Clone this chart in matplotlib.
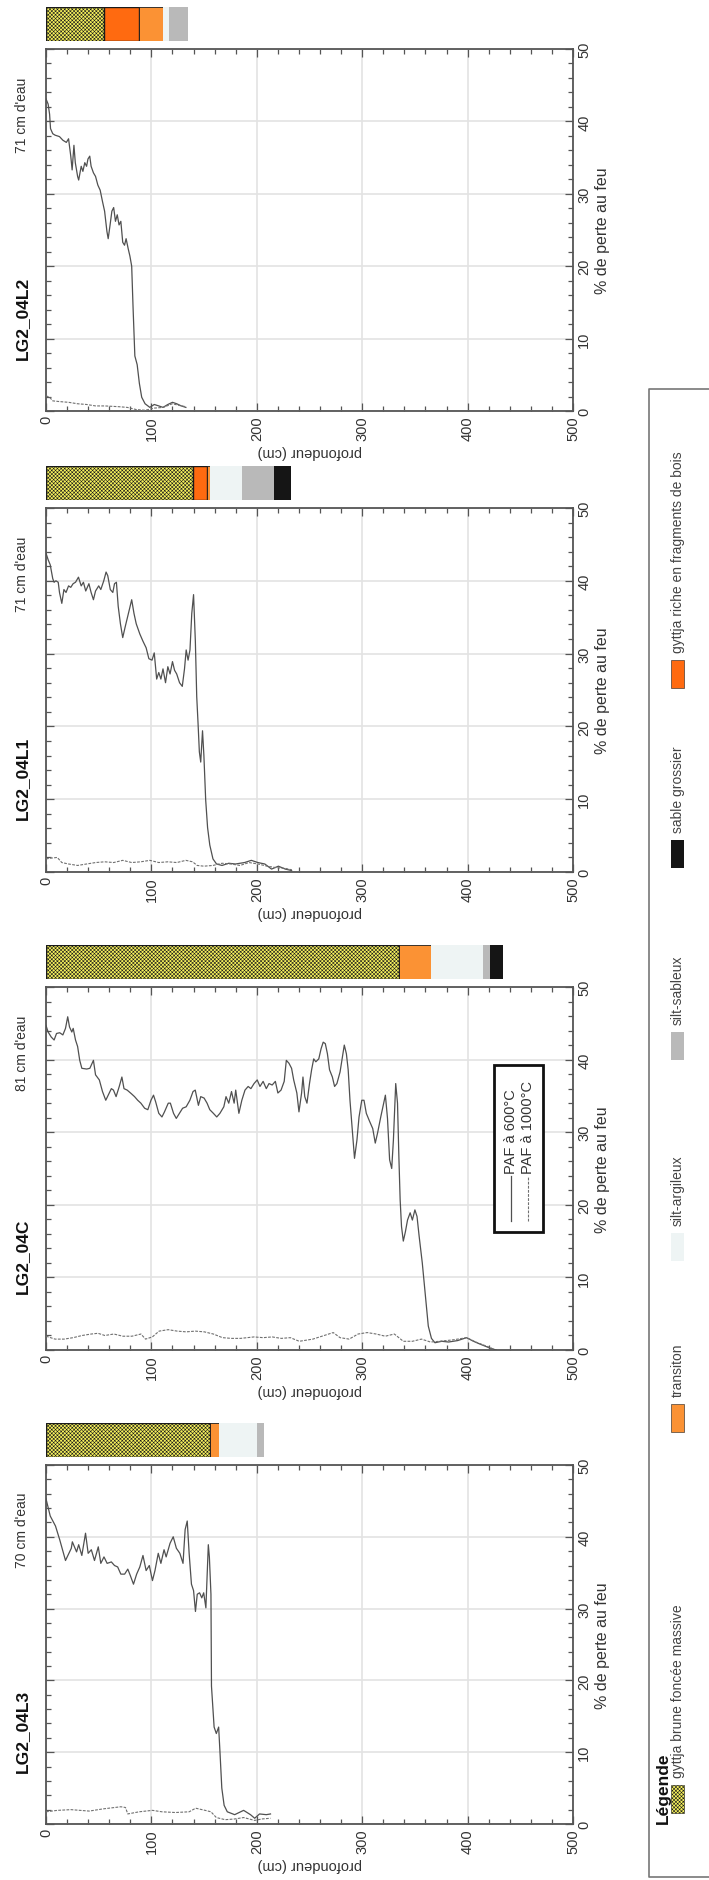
import matplotlib
matplotlib.use('Agg')
import matplotlib.pyplot as plt
from matplotlib.patches import Rectangle
from matplotlib.lines import Line2D
from matplotlib.ticker import MultipleLocator

plt.rcParams['font.family'] = ['Liberation Sans', 'DejaVu Sans']
plt.rcParams['hatch.linewidth'] = 0.4

W, H = 709, 1881

# ---------------- data ----------------
core_names = ['LG2_04L2', 'LG2_04L1', 'LG2_04C', 'LG2_04L3']
water_labels = ["71 cm d'eau", "71 cm d'eau", "81 cm d'eau", "70 cm d'eau"]

# LG2_04L2
l2_depth_600 = [0, 2, 3.4, 4.3, 6.4, 8.6, 12.8, 16, 19.3, 21.4,
                23.5, 24.8, 26.5, 27.8, 30, 31, 33.4, 35, 36.8, 38.5,
                39.8, 41.5, 42.8, 45, 47, 49.2, 51.4, 53.5, 55.6, 57.8,
                59, 60.8, 62.5, 64.2, 65.9, 67.6, 69.3, 71, 72.8, 74.5,
                76, 78, 79.6, 81.3, 82.6, 84.3, 86.5, 88.6, 90.8, 94,
                98.5, 102.7, 107, 111, 115.6, 120, 124, 128.4, 132.7]
l2_paf_600 = [43.1, 42.4, 41.0, 39.0, 38.3, 38.1, 37.9, 37.4, 37.1, 37.6,
              35.2, 33.3, 36.7, 34.3, 32.4, 31.9, 33.8, 33.1, 34.3, 33.8,
              34.8, 35.2, 33.8, 32.9, 32.4, 31.2, 30.5, 29.0, 27.6, 24.8,
              23.8, 25.7, 27.6, 28.1, 26.2, 27.1, 25.7, 26.2, 23.3, 22.9,
              23.8, 22.4, 21.4, 20.0, 14.3, 7.6, 6.4, 3.8, 1.9, 1.0,
              0.5, 0.9, 0.7, 0.5, 0.9, 1.2, 1.0, 0.7, 0.5]
l2_depth_1000 = [0, 3.4, 6.4, 12.8, 21.4, 30, 38.5, 47.1, 55.7, 68.5,
                 77, 85.6, 94.2, 102.7, 111.3, 119.9, 128.4, 132.7]
l2_paf_1000 = [2.1, 1.9, 1.4, 1.3, 1.2, 1.0, 0.9, 0.7, 0.7, 0.6,
               0.5, 0.2, 0.1, 0.4, 0.5, 1.0, 0.7, 0.6]

# LG2_04L1
l1_depth_600 = [0, 2, 4, 6.4, 7.7, 9.4, 11.6, 12.8, 15, 17,
                19, 21.4, 23.5, 25.7, 28, 30.8, 33.4, 35.5, 37.7, 40.7,
                42.8, 45, 47, 50, 52, 54.8, 57, 58.6, 61, 63.4,
                65, 66.8, 68.5, 70.6, 72.8, 75, 77, 79, 81.3, 83.5,
                85.6, 89, 92, 95, 97.6, 100.6, 102.7, 105, 107, 109,
                111, 113.4, 115.6, 117.7, 120, 122, 124, 126.7, 129.3, 131.4,
                133, 134.8, 136.6, 138.3, 140, 141.7, 143, 144.3, 145.5, 146.8,
                148.5, 149.8, 151.5, 153.3, 155.4, 158.4, 161.8, 167, 173.4, 179.8,
                188.4, 194.8, 201, 207.6, 214, 220.5, 227, 233]
l1_paf_600 = [43.8, 42.9, 42.2, 40.3, 39.8, 40.0, 39.8, 38.4, 36.9, 38.8,
              38.4, 39.3, 39.1, 39.6, 39.8, 40.5, 39.3, 39.8, 38.6, 39.6,
              38.4, 37.4, 38.6, 39.3, 38.8, 40.0, 41.2, 40.7, 38.8, 38.4,
              39.6, 39.8, 36.5, 34.1, 32.2, 33.6, 34.8, 36.0, 37.4, 35.5,
              34.1, 32.7, 31.7, 30.8, 29.3, 29.1, 30.1, 26.5, 27.4, 26.5,
              27.9, 26.0, 28.2, 27.2, 28.9, 27.7, 27.2, 26.0, 25.5, 27.9,
              30.5, 29.1, 30.5, 35.5, 38.1, 31.7, 24.1, 20.3, 16.5, 15.1,
              19.4, 16.0, 9.9, 6.1, 3.7, 1.8, 1.1, 0.9, 1.2, 1.1,
              1.3, 1.6, 1.3, 1.1, 0.4, 0.8, 0.4, 0.2]
l1_depth_1000 = [0, 4.3, 10.7, 15, 21.4, 30, 38.5, 47.1, 55.7, 64.2,
                 72.8, 81.3, 89.9, 98.5, 107, 115.6, 124.1, 132.7, 139.1, 143.4,
                 149.8, 158.4, 167, 175.5, 184.1, 192.6, 201.2, 209.8, 218.3, 226.9,
                 233.3]
l1_paf_1000 = [1.8, 1.9, 2.0, 1.3, 1.1, 0.9, 1.1, 1.3, 1.4, 1.3,
               1.6, 1.3, 1.4, 1.6, 1.3, 1.4, 1.3, 1.6, 1.4, 0.9,
               0.8, 0.9, 1.2, 1.1, 0.9, 1.3, 1.1, 0.8, 0.6, 0.5,
               0.3]

# LG2_04C
c_depth_600 = [0, 2, 5, 7.7, 10, 13, 16, 18.5, 20.6, 22.3,
               24.5, 25.8, 28, 30, 32, 34, 38.6, 41.6, 45, 47,
               50.6, 53.6, 56.7, 59, 62, 64, 66.5, 69.5, 72, 74,
               77, 81, 84, 87, 90, 93.6, 96.6, 99.6, 102, 104,
               107, 110, 112.4, 116, 118, 121, 123.6, 126.6, 129.6, 133,
               136.5, 139.5, 141.6, 144.6, 146.8, 150, 152.8, 155.4, 158.8, 162,
               165, 168.7, 170.8, 173.4, 176, 178.5, 180, 183, 185.8, 188.8,
               191.8, 194.4, 197.4, 200.4, 203, 206, 209, 211.6, 214.6, 217.6,
               220, 223, 226, 228, 230.5, 233, 235, 238, 240, 242.5,
               243.8, 245.5, 247.6, 250, 252, 254, 256, 258.8, 261, 263,
               265, 267, 269, 271.7, 273.8, 276, 279, 281, 283, 285,
               286.7, 288.4, 290.6, 292.7, 295, 297, 299.6, 301.7, 303.9, 307,
               310, 312.4, 314.6, 317.6, 319.7, 322, 324, 326, 328, 329.6,
               331.8, 333.5, 334.8, 336, 337.3, 339, 341, 343, 345.5, 347.6,
               350, 352, 354, 357, 359.7, 362.7, 365.7, 369, 375.5, 382,
               390.6, 399, 405.6, 412, 420.6, 427]
c_paf_600 = [44.7, 43.8, 43.1, 42.7, 43.6, 43.7, 43.4, 44.3, 45.9, 44.5,
             43.8, 44.3, 42.7, 41.8, 39.9, 38.8, 38.7, 38.8, 39.9, 37.9,
             37.2, 35.6, 34.4, 35.1, 36.0, 35.8, 34.9, 36.3, 37.6, 36.0,
             35.8, 35.3, 34.9, 34.4, 34.0, 33.3, 33.1, 34.4, 35.1, 34.2,
             32.6, 32.1, 32.8, 34.0, 34.0, 32.6, 31.9, 32.6, 33.3, 33.5,
             34.4, 35.6, 35.8, 33.7, 34.9, 34.7, 34.0, 33.1, 32.6, 32.1,
             32.6, 33.5, 34.9, 34.0, 35.6, 34.0, 35.8, 32.6, 34.4, 35.8,
             36.3, 36.0, 36.7, 37.2, 36.3, 37.0, 36.0, 36.7, 36.5, 37.0,
             35.4, 35.8, 37.0, 39.9, 39.5, 38.8, 37.2, 35.4, 32.8, 35.4,
             37.6, 34.9, 34.0, 36.7, 38.6, 40.1, 39.7, 40.1, 41.5, 42.4,
             42.2, 40.8, 38.6, 37.6, 36.3, 36.7, 38.3, 40.2, 42.0, 40.8,
             38.6, 34.4, 30.3, 26.4, 28.9, 32.1, 34.4, 34.4, 32.6, 31.5,
             30.5, 28.5, 29.9, 32.1, 33.5, 35.1, 31.9, 26.2, 25.0, 28.9,
             36.7, 34.0, 26.6, 20.7, 17.0, 15.0, 16.3, 17.9, 18.9, 17.9,
             19.3, 18.4, 15.7, 12.0, 7.9, 3.3, 1.6, 1.0, 1.2, 1.1,
             1.3, 1.7, 1.2, 0.8, 0.3, 0.0]
c_depth_1000 = [0, 4.3, 8.6, 17.2, 25.8, 34.3, 42.9, 49.4, 55.8, 64.4,
                72.9, 81.5, 90.1, 94.4, 100.9, 107.3, 115.9, 124.5, 133, 141.6,
                150.2, 158.8, 167.4, 176, 184.5, 197.4, 206, 214.6, 223.2, 231.8,
                240.3, 253.2, 261.8, 272.5, 279, 287.6, 296.1, 304.7, 313.3, 321.9,
                330.5, 339, 347.6, 356.2, 364.8, 373.4, 386.3, 399.1, 407.7, 418.5,
                425]
c_paf_1000 = [1.9, 1.7, 1.5, 1.5, 1.7, 2.0, 2.2, 2.3, 2.0, 2.2,
              1.9, 1.9, 2.2, 1.5, 1.8, 2.6, 2.8, 2.6, 2.5, 2.6,
              2.5, 2.2, 1.7, 1.6, 1.6, 1.8, 1.7, 1.8, 1.6, 1.7,
              1.2, 1.5, 1.9, 2.4, 1.7, 1.5, 2.2, 2.4, 2.2, 1.9,
              2.2, 1.2, 1.2, 1.5, 1.1, 1.2, 1.4, 1.7, 1.1, 0.5,
              0.1]

# LG2_04L3
l3_depth_600 = [0, 4, 9, 13, 18.5, 24, 25, 29, 31, 34,
                37.5, 40, 43, 46, 49.6, 52, 55, 58, 62, 65,
                68, 71, 74.6, 77.6, 80, 83, 86, 89, 92, 95,
                98, 101, 103.4, 106.5, 109, 112, 114, 117.7, 120.7, 123.7,
                127, 130, 132, 134, 135.8, 138, 140, 141.8, 143.5, 145.7,
                147.8, 149.6, 151.7, 154, 155, 156.5, 157, 159.5, 161.6, 163.8,
                165, 166.8, 169, 172, 179, 187.5, 194, 198, 202.6, 209,
                213]
l3_paf_600 = [45.3, 42.9, 41.5, 39.6, 36.7, 38.4, 39.3, 37.9, 38.9, 37.4,
              40.5, 37.7, 38.2, 36.7, 38.6, 36.3, 37.2, 36.3, 36.5, 36.0,
              35.8, 34.8, 34.8, 35.5, 34.6, 33.4, 34.8, 35.8, 37.4, 35.3,
              36.0, 33.9, 35.3, 37.7, 36.3, 38.2, 37.2, 39.1, 40.0, 38.4,
              37.7, 36.3, 41.0, 42.2, 37.7, 33.4, 32.5, 29.6, 32.0, 32.2,
              31.5, 32.2, 30.1, 38.9, 37.2, 32.0, 19.2, 13.5, 12.6, 13.5,
              10.2, 5.0, 2.6, 1.7, 1.3, 1.9, 1.3, 0.8, 1.4, 1.3,
              1.4]
l3_depth_1000 = [0, 10.8, 23.7, 41, 53.9, 71, 75.4, 77.6, 88.4, 101,
                 110, 122.8, 135.8, 142, 151, 156.5, 161.6, 170, 179, 187.5,
                 198, 204.7, 213]
l3_paf_1000 = [1.7, 1.9, 2.0, 1.8, 2.1, 2.4, 2.3, 1.4, 1.7, 1.9,
               1.7, 1.6, 1.7, 2.2, 1.9, 1.7, 0.9, 0.6, 0.7, 0.9,
               0.5, 0.7, 0.8]

# lithology strips (top, bottom in cm, unit)
l2_litho_top = [0, 55, 88, 111, 117]
l2_litho_bot = [55, 88, 111, 117, 135]
l2_litho = ['gyttja', 'bois', 'transition', 'silt_arg', 'silt_sab']
l1_litho_top = [0, 139, 153, 156, 186, 216]
l1_litho_bot = [139, 153, 156, 186, 216, 232]
l1_litho = ['gyttja', 'bois', 'transition', 'silt_arg', 'silt_sab', 'sable']
c_litho_top = [0, 335, 365, 415, 421]
c_litho_bot = [335, 365, 415, 421, 434]
c_litho = ['gyttja', 'transition', 'silt_arg', 'silt_sab', 'sable']
l3_litho_top = [0, 156, 164, 200]
l3_litho_bot = [156, 164, 200, 207]
l3_litho = ['gyttja', 'transition', 'silt_arg', 'silt_sab']

legend_keys = ['gyttja', 'transition', 'silt_arg', 'silt_sab', 'sable', 'bois']
legend_labels = ['gyttja brune foncée massive', 'transiton', 'silt-argileux',
                 'silt-sableux', 'sable grossier', 'gyttja riche en fragments de bois']

# ---------------- styles ----------------
unit_style = {
    'gyttja': dict(facecolor='#f7f25c', edgecolor='#1a1a1a', hatch='x' * 9, linewidth=1.0),
    'bois': dict(facecolor='#ff6a10', edgecolor='#1a1a1a', linewidth=1.0),
    'transition': dict(facecolor='#fb9234', edgecolor='#1a1a1a', linewidth=0.6),
    'silt_arg': dict(facecolor='#eef4f4', edgecolor='none'),
    'silt_sab': dict(facecolor='#b9b9b9', edgecolor='none'),
    'sable': dict(facecolor='#151515', edgecolor='none'),
}

cores = [
    (l2_depth_600, l2_paf_600, l2_depth_1000, l2_paf_1000, l2_litho_top, l2_litho_bot, l2_litho),
    (l1_depth_600, l1_paf_600, l1_depth_1000, l1_paf_1000, l1_litho_top, l1_litho_bot, l1_litho),
    (c_depth_600, c_paf_600, c_depth_1000, c_paf_1000, c_litho_top, c_litho_bot, c_litho),
    (l3_depth_600, l3_paf_600, l3_depth_1000, l3_paf_1000, l3_litho_top, l3_litho_bot, l3_litho),
]

# panel geometry in pixels (figure is a rotated landscape page)
ax_left, ax_right = 46, 573
panel_tops = [50, 509, 988, 1466]
panel_bots = [412, 873, 1351, 1825]

txt = '#333333'
fig = plt.figure(figsize=(W / 100, H / 100), dpi=100)

for i, (d6, p6, d10, p10, ltop, lbot, lunit) in enumerate(cores):
    top, bot = panel_tops[i], panel_bots[i]
    ax = fig.add_axes([ax_left / W, 1 - bot / H, (ax_right - ax_left) / W, (bot - top) / H])
    ax.plot(d6, p6, color='#505050', lw=0.9, zorder=3)
    ax.plot(d10, p10, color='#707070', lw=0.8, dashes=(2.5, 1.2), zorder=3)
    ax.set_xlim(0, 500)
    ax.set_ylim(0, 50)
    ax.set_xticks(range(0, 501, 100), labels=[str(v) for v in range(0, 501, 100)],
                  rotation=90, fontsize=10.5, color=txt)
    ax.set_yticks(range(0, 51, 10), labels=[str(v) for v in range(0, 51, 10)],
                  rotation=90, va='center', fontsize=10.5, color=txt)
    ax.xaxis.set_minor_locator(MultipleLocator(20))
    ax.yaxis.set_minor_locator(MultipleLocator(2))
    ax.tick_params(which='both', direction='in', top=True, bottom=True, left=True, right=True,
                   labelleft=False, labelright=True, color='#555555', width=0.9)
    ax.tick_params(which='major', length=6, pad=3)
    ax.tick_params(which='minor', length=3.5)
    ax.grid(True, which='major', color='#e3e3e3', lw=1.2)
    ax.set_axisbelow(True)
    for sp in ax.spines.values():
        sp.set_color('#555555')
        sp.set_linewidth(1.3)
    ax.set_xlabel('profondeur (cm)', rotation=180, fontsize=10.5, color=txt, labelpad=3)
    ax.yaxis.set_label_position('right')
    ax.set_ylabel('% de perte au feu', rotation=90, fontsize=11.5, color=txt, labelpad=3)

    ax.text(-0.045, 0.26, core_names[i], transform=ax.transAxes, rotation=90,
            ha='center', va='center', fontsize=12.5, fontweight='bold', color='#111111')
    ax.text(-0.045, 0.82, water_labels[i], transform=ax.transAxes, rotation=90,
            ha='center', va='center', fontsize=10, color=txt)

    # lithology strip above the panel
    sax = fig.add_axes([ax_left / W, 1 - (top - 8) / H, (ax_right - ax_left) / W, 34 / H])
    sax.set_xlim(0, 500)
    sax.set_ylim(0, 1)
    sax.axis('off')
    for t0, t1, u in zip(ltop, lbot, lunit):
        sax.barh(0.5, t1 - t0, left=t0, height=1.0, **unit_style[u])

    # curve legend in the LG2_04C panel
    if core_names[i] == 'LG2_04C':
        ax.add_patch(Rectangle((425, 16.3), 47, 22.9, facecolor='white',
                               edgecolor='#111111', lw=2.0, zorder=5))
        ax.add_line(Line2D([441, 441], [17.7, 23.9], color='#505050', lw=0.9, zorder=6))
        ax.add_line(Line2D([457, 457], [17.7, 23.9], color='#707070', lw=0.8,
                           dashes=(2.5, 1.2), zorder=6))
        ax.text(441, 24.4, 'PAF à 600°C', rotation=90, ha='center', va='bottom',
                fontsize=10.5, color=txt, zorder=6)
        ax.text(457, 24.4, 'PAF à 1000°C', rotation=90, ha='center', va='bottom',
                fontsize=10.5, color=txt, zorder=6)

# lithology legend (right side, rotated)
ov = fig.add_axes([0, 0, 1, 1])
ov.set_xlim(0, W)
ov.set_ylim(H, 0)
ov.axis('off')
ov.plot([760, 649, 649, 760], [390, 390, 1878, 1878], color='#777777', lw=1.2, clip_on=False)
ov.text(663, 1788, 'Légende', rotation=90, ha='center', va='center',
        fontsize=12.5, fontweight='bold', color='#111111')
patch_centers = [1800, 1419, 1248, 1047, 855, 675]
for key, label, yc in zip(legend_keys, legend_labels, patch_centers):
    st = dict(unit_style[key])
    st['linewidth'] = 0.4
    ov.add_patch(Rectangle((671, yc - 14), 13, 28, **st))
    ov.text(678, yc - 22, label, rotation=90, ha='center', va='bottom',
            fontsize=10, color='#444444')

fig.savefig('out.png', dpi=100)
